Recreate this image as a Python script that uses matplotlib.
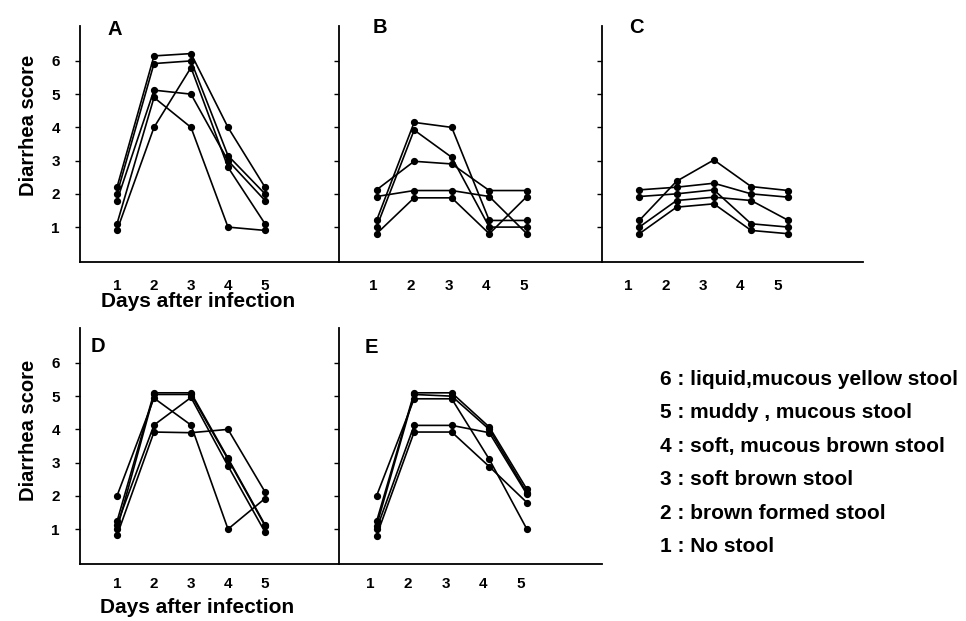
import matplotlib
matplotlib.use('Agg')
import matplotlib.pyplot as plt
from matplotlib.transforms import ScaledTranslation

plt.rcParams['font.family'] = ['Liberation Sans', 'DejaVu Sans']
plt.rcParams['font.weight'] = 'bold'

days = [1, 2, 3, 4, 5]
day_labels = ['1', '2', '3', '4', '5']
score_ticks = [1, 2, 3, 4, 5, 6]
score_tick_labels = ['1', '2', '3', '4', '5', '6']

# diarrhea score per mouse, days 1-5
panel_a = [[2.2, 6.15, 6.22, 4.0, 2.2],
           [2.0, 5.92, 6.0, 3.15, 2.0],
           [1.8, 5.12, 5.0, 3.0, 1.8],
           [1.1, 4.9, 4.0, 1.0, 0.9],
           [0.9, 4.0, 5.8, 2.8, 1.1]]
panel_b = [[2.12, 2.98, 2.9, 2.1, 2.1],
           [1.92, 2.1, 2.1, 1.92, 0.8],
           [1.2, 4.15, 4.0, 1.2, 1.2],
           [1.0, 3.92, 3.1, 1.0, 1.0],
           [0.8, 1.88, 1.88, 0.8, 1.92]]
panel_c = [[1.2, 2.38, 3.02, 2.22, 2.1],
           [2.12, 2.2, 2.32, 2.0, 1.9],
           [1.92, 2.0, 2.12, 1.1, 1.0],
           [1.0, 1.8, 1.9, 1.8, 1.2],
           [0.8, 1.6, 1.7, 0.9, 0.8]]
panel_d = [[2.0, 4.94, 4.13, 1.0, 1.92],
           [1.23, 5.1, 5.1, 3.13, 1.13],
           [1.13, 4.13, 4.96, 2.9, 0.91],
           [1.0, 5.05, 5.05, 3.1, 1.1],
           [0.81, 3.92, 3.9, 4.0, 2.12]]
panel_e = [[1.23, 5.1, 5.1, 4.07, 2.2],
           [2.0, 4.92, 4.92, 3.1, 1.0],
           [1.0, 4.12, 4.12, 3.9, 2.05],
           [0.8, 3.92, 3.92, 2.88, 1.8],
           [1.1, 5.05, 5.0, 4.0, 2.1]]

score_legend = ['6 : liquid,mucous yellow stool',
                '5 : muddy , mucous stool',
                '4 : soft, mucous brown stool',
                '3 : soft brown stool',
                '2 : brown formed stool',
                '1 : No stool']

W, H = 966, 621
fig = plt.figure(figsize=(W / 100, H / 100), dpi=100)


def px_axes(left, top, right, bottom):
    return fig.add_axes([left / W, 1 - bottom / H, (right - left) / W, (bottom - top) / H])


def px_text(x, y, s, **kw):
    fig.text(x / W, 1 - y / H, s, **kw)


# (letter, data, box in pixels, y labels?, letter baseline, x-label pad, x-label shift px)
panels = [('A', panel_a, (80, 26, 339, 262), True, (108, 35), 12.5, 0),
          ('B', panel_b, (339, 26, 602, 262), False, (373, 33), 12.5, -3),
          ('C', panel_c, (602, 26, 863, 262), False, (629, 33), 12.5, -11),
          ('D', panel_d, (80, 328, 339, 564), True, (91, 352), 9.5, 0),
          ('E', panel_e, (339, 328, 602, 564), False, (365, 353), 9.5, -6)]

for letter, data, box, show_y, (lx, ly), xpad, shift in panels:
    ax = px_axes(*box)
    for mouse in data:
        ax.plot(days, mouse, '-o', color='black', lw=1.2, ms=4.2)
    ax.set_xlim(0, 7)
    ax.set_ylim(-0.05, 7.05)
    for side in ['top', 'right']:
        ax.spines[side].set_visible(False)
    for side in ['left', 'bottom']:
        ax.spines[side].set_linewidth(1.3)
    ax.set_xticks(days, day_labels, fontsize=11, fontweight='bold')
    ax.tick_params(axis='x', length=0, pad=xpad)
    if shift:
        offset = ScaledTranslation(shift / 100, 0, fig.dpi_scale_trans)
        for lab in ax.get_xticklabels():
            lab.set_transform(lab.get_transform() + offset)
    ax.set_yticks(score_ticks, score_tick_labels, fontsize=11, fontweight='bold')
    ax.tick_params(axis='y', direction='out', length=3.5, width=1, pad=11,
                   labelleft=show_y)
    px_text(lx, ly, letter, fontsize=14.5, fontweight='bold', va='baseline')

px_text(28, 125, 'Diarrhea score', fontsize=14.5, fontweight='bold',
        rotation=90, ha='center', va='center')
px_text(28, 430, 'Diarrhea score', fontsize=14.5, fontweight='bold',
        rotation=90, ha='center', va='center')
px_text(198, 307, 'Days after infection', fontsize=15, fontweight='bold',
        ha='center', va='baseline')
px_text(197, 613, 'Days after infection', fontsize=15, fontweight='bold',
        ha='center', va='baseline')

for i, line in enumerate(score_legend):
    px_text(660, 385 + i * 33.4, line, fontsize=15, fontweight='bold', va='baseline')

fig.savefig('out.png', dpi=100)
